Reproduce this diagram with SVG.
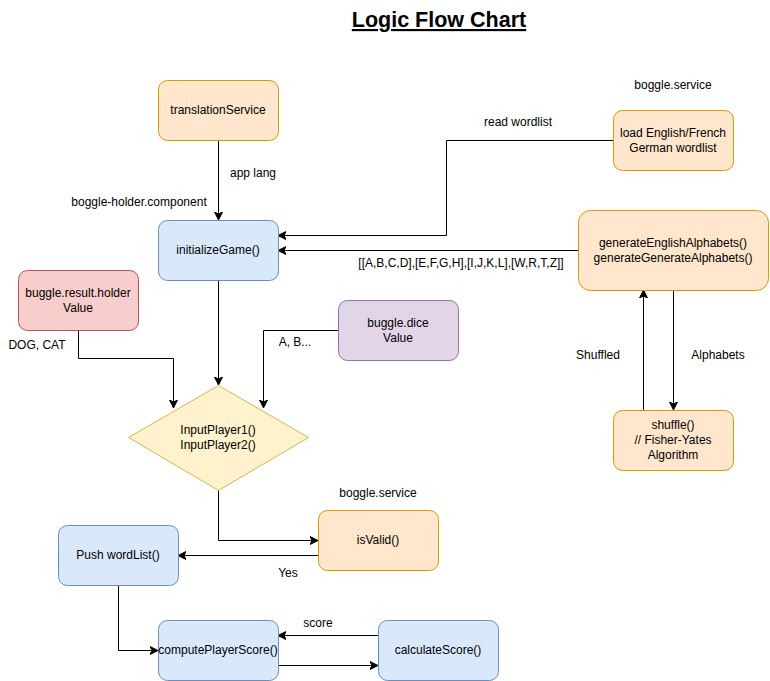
<svg xmlns="http://www.w3.org/2000/svg" width="770" height="681" viewBox="0 0 770 681">
<style>
text{font-family:"Liberation Sans",Arial,sans-serif;font-size:12px;fill:#000}
.c{text-anchor:middle}
.orange{fill:#ffe6cc;stroke:#d79b00;stroke-width:1}
.blue{fill:#dae8fc;stroke:#6c8ebf;stroke-width:1}
.red{fill:#f8cecc;stroke:#b85450;stroke-width:1}
.purple{fill:#e1d5e7;stroke:#9673a6;stroke-width:1}
.yellow{fill:#fff2cc;stroke:#d6b656;stroke-width:1}
.edge{fill:none;stroke:#000;stroke-width:1;marker-end:url(#arr)}
</style>
<defs>
<marker id="arr" markerWidth="10" markerHeight="10" refX="8" refY="5" orient="auto" markerUnits="userSpaceOnUse">
<path d="M0,1 L8,5 L0,9 L2,5 Z" fill="#000" stroke="#000" stroke-width="1"/>
</marker>
</defs>
<rect width="770" height="681" fill="#fff"/>
<g id="title">
<text x="439" y="27" class="c" style="font-size:21.5px;font-weight:bold;text-decoration:underline">Logic Flow Chart</text>
</g>
<g id="connectors">
<path class="edge" d="M218.5,140 V220"/>
<path class="edge" d="M613,140.5 H446.5 V235.5 H278"/>
<path class="edge" d="M578,250.5 H278"/>
<path class="edge" d="M643.5,410 V290"/>
<path class="edge" d="M673.5,290 V410"/>
<path class="edge" d="M218.5,280 V385"/>
<path class="edge" d="M78.5,330 V358.5 H173.5 V408"/>
<path class="edge" d="M338,330.5 H263.5 V408"/>
<path class="edge" d="M218.5,490 V540.5 H318"/>
<path class="edge" d="M318,555.5 H178"/>
<path class="edge" d="M118.5,585 V650.5 H158"/>
<path class="edge" d="M378,635.5 H278"/>
<path class="edge" d="M278,665.5 H378"/>
<text x="253" y="177" class="c">app lang</text>
<text x="518" y="126" class="c">read wordlist</text>
<text x="461" y="267" class="c">[[A,B,C,D],[E,F,G,H],[I,J,K,L],[W,R,T,Z]]</text>
<text x="598" y="359" class="c">Shuffled</text>
<text x="718" y="359" class="c">Alphabets</text>
<text x="37" y="349" class="c">DOG, CAT</text>
<text x="295" y="346" class="c">A, B...</text>
<text x="288" y="577" class="c">Yes</text>
<text x="318" y="627" class="c">score</text>
</g>
<g id="translationService">
<rect class="orange" x="158.5" y="80.5" width="120" height="60" rx="9"/>
<text x="218" y="114" class="c">translationService</text>
</g>
<g id="initializeGame">
<text x="139" y="206" class="c">boggle-holder.component</text>
<rect class="blue" x="158.5" y="220.5" width="120" height="60" rx="9"/>
<text x="218" y="254" class="c">initializeGame()</text>
</g>
<g id="loadWordlist">
<text x="673" y="89" class="c">boggle.service</text>
<rect class="orange" x="613.5" y="110.5" width="120" height="60" rx="9"/>
<text x="673" y="137" class="c">load English/French</text>
<text x="673" y="152" class="c">German wordlist</text>
</g>
<g id="generateAlphabets">
<rect class="orange" x="578.5" y="210.5" width="190" height="80" rx="12"/>
<text x="673" y="247" class="c">generateEnglishAlphabets()</text>
<text x="673" y="262" class="c">generateGenerateAlphabets()</text>
</g>
<g id="shuffle">
<rect class="orange" x="613.5" y="410.5" width="120" height="60" rx="9"/>
<text x="673" y="429" class="c">shuffle()</text>
<text x="673" y="444" class="c">// Fisher-Yates</text>
<text x="673" y="459" class="c">Algorithm</text>
</g>
<g id="resultHolder">
<rect class="red" x="18.5" y="270.5" width="120" height="60" rx="9"/>
<text x="78" y="297" class="c">buggle.result.holder</text>
<text x="78" y="312" class="c">Value</text>
</g>
<g id="dice">
<rect class="purple" x="338.5" y="300.5" width="120" height="60" rx="9"/>
<text x="398" y="327" class="c">buggle.dice</text>
<text x="398" y="342" class="c">Value</text>
</g>
<g id="inputPlayers">
<path class="yellow" d="M218.5,385.5 L308.5,437.5 L218.5,490.5 L128.5,437.5 Z"/>
<text x="218" y="434" class="c">InputPlayer1()</text>
<text x="218" y="449" class="c">InputPlayer2()</text>
</g>
<g id="isValid">
<text x="378" y="497" class="c">boggle.service</text>
<rect class="orange" x="318.5" y="510.5" width="120" height="60" rx="9"/>
<text x="378" y="544" class="c">isValid()</text>
</g>
<g id="pushWordList">
<rect class="blue" x="58.5" y="525.5" width="120" height="60" rx="9"/>
<text x="118" y="559" class="c">Push wordList()</text>
</g>
<g id="computePlayerScore">
<rect class="blue" x="158.5" y="620.5" width="120" height="60" rx="9"/>
<text x="218" y="654" class="c">computePlayerScore()</text>
</g>
<g id="calculateScore">
<rect class="blue" x="378.5" y="620.5" width="120" height="60" rx="9"/>
<text x="438" y="654" class="c">calculateScore()</text>
</g>
</svg>
